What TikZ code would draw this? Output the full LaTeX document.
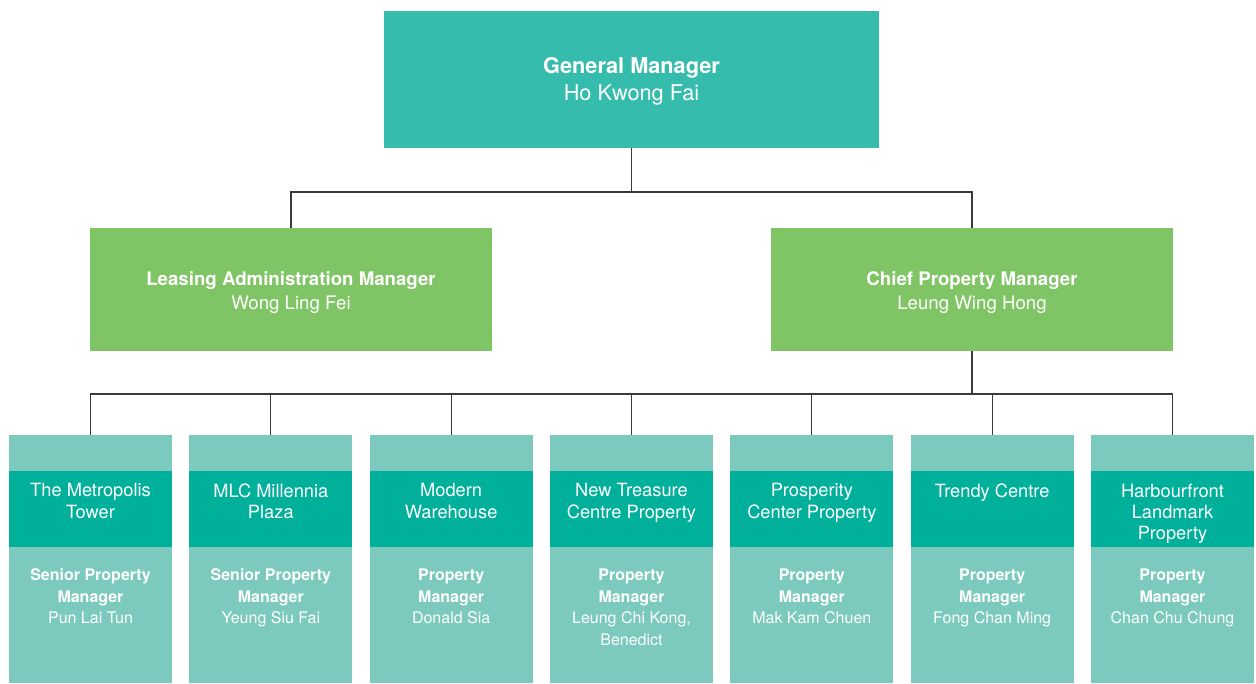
\documentclass[tikz,border=0pt]{standalone}
\usepackage{fontspec}
\setmainfont{TeX Gyre Heros}
\usetikzlibrary{positioning}
\definecolor{gmteal}{HTML}{36BCAD}
\definecolor{mgrgreen}{HTML}{80C565}
\definecolor{sitelight}{HTML}{7BCABD}
\definecolor{sitedark}{HTML}{00B09B}
\definecolor{linegray}{HTML}{3A3A3A}

\begin{document}
\begin{tikzpicture}[x=0.75pt,y=-0.75pt,
    every node/.style={inner sep=0pt,outer sep=0pt,align=center,text=white},
    head node/.style={fill=gmteal,minimum width=371.25pt,minimum height=102.75pt},
    head text/.style={font=\fontsize{16.3}{20.25}\selectfont},
    mgr node/.style={fill=mgrgreen,minimum width=301.5pt,minimum height=92.25pt},
    mgr text/.style={font=\fontsize{14}{18}\selectfont},
    site box/.style={fill=sitelight,minimum width=122.25pt,minimum height=186pt},
    site band/.style={fill=sitedark,minimum width=122.25pt,minimum height=57pt},
    site name/.style={font=\fontsize{13.7}{15.9}\selectfont},
    site staff/.style={font=\fontsize{12}{16.1}\selectfont},
    link/.style={draw=linegray,line width=0.9pt}]
      \useasboundingbox (0,0) rectangle (1256,683);

      \node [head node] (gm) at (631.5,79.5) {};
      \node [head text] (gmtext) at ([yshift=-1.5pt]gm.center) {\textbf{General Manager}\\Ho Kwong Fai};
      \node [mgr node] (leasing) at (291,289.5) {};
      \node [mgr text] (leasingtext) at ([yshift=-2.25pt]leasing.center) {\textbf{Leasing Administration Manager}\\Wong Ling Fei};
      \node [mgr node] (chief) at (972,289.5) {};
      \node [mgr text] (chieftext) at ([yshift=-2.25pt]chief.center) {\textbf{Chief Property Manager}\\Leung Wing Hong};

      \coordinate (gmjoin) at (631.5,192);
      \coordinate (chiefjoin) at (972,394);

      \draw[link] (gm) -- (gmjoin) -| (leasing);
      \draw[link] (gmjoin) -| (chief);
      \draw[link] (chief) -- (chiefjoin);

      \foreach \title/\role/\who [count=\i] in {
          {The Metropolis\\Tower}/{Senior Property}/{Pun Lai Tun},
          {MLC Millennia\\Plaza}/{Senior Property}/{Yeung Siu Fai},
          {Modern\\Warehouse}/{Property}/{Donald Sia},
          {New Treasure\\Centre Property}/{Property}/{Leung Chi Kong,\\Benedict},
          {Prosperity\\Center Property}/{Property}/{Mak Kam Chuen},
          {Trendy Centre}/{Property}/{Fong Chan Ming},
          {Harbourfront\\Landmark\\Property}/{Property}/{Chan Chu Chung}} {
        \pgfmathsetmacro\cx{90.5+180.33*(\i-1)}
        \node [site box] (site\i) at (\cx,559) {};
        \node [site band, below=27pt of site\i.north] (band\i) {};
        \node [site name, below=9.5pt of band\i.north] (name\i) {\title};
        \node [site staff, below=16.5pt of band\i.south] (staff\i) {\textbf{\role}\\\textbf{Manager}\\\who};
        \draw[link] (chiefjoin) -| (site\i);
      }
    \end{tikzpicture}
\end{document}
